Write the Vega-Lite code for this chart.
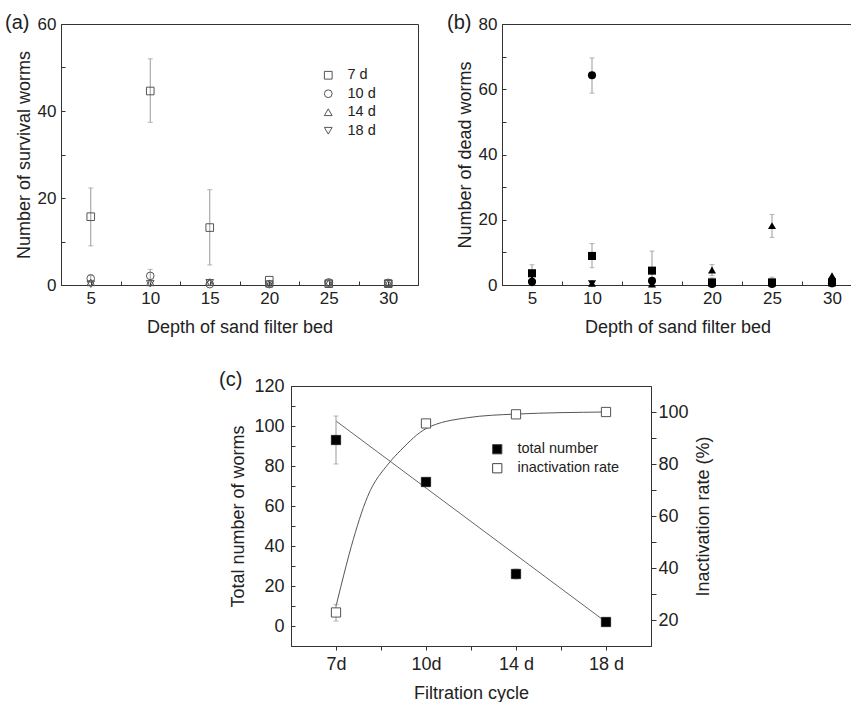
{
  "$schema": "https://vega.github.io/schema/vega-lite/v6.json",
  "padding": {"left": 4, "top": 12, "right": 0, "bottom": 0},
  "config": {
    "font": "Liberation Sans",
    "view": {"stroke": "#333", "strokeWidth": 1},
    "axis": {"grid": false, "domainColor": "#333", "tickColor": "#333", "labelColor": "#222", "titleColor": "#222", "titleFontWeight": "normal", "labelFlush": false, "labelOverlap": false, "labelFont": "Liberation Sans", "titleFont": "Liberation Sans"},
    "legend": {"labelFont": "Liberation Sans", "labelColor": "#222"},
    "title": {"color": "#222", "font": "Liberation Sans"}
  },
  "datasets": {
    "survival": [
      {"depth": 5, "age": "7 d", "n": 15.7, "lo": 9.0, "hi": 22.3},
      {"depth": 10, "age": "7 d", "n": 44.6, "lo": 37.4, "hi": 52.0},
      {"depth": 15, "age": "7 d", "n": 13.2, "lo": 4.6, "hi": 21.9},
      {"depth": 20, "age": "7 d", "n": 1.1},
      {"depth": 25, "age": "7 d", "n": 0.3},
      {"depth": 30, "age": "7 d", "n": 0.3},
      {"depth": 5, "age": "10 d", "n": 1.5, "lo": 0.8, "hi": 2.3},
      {"depth": 10, "age": "10 d", "n": 2.1, "lo": 0.6, "hi": 3.6},
      {"depth": 15, "age": "10 d", "n": 0.2},
      {"depth": 20, "age": "10 d", "n": 0.2},
      {"depth": 25, "age": "10 d", "n": 0.6},
      {"depth": 30, "age": "10 d", "n": 0.5},
      {"depth": 5, "age": "14 d", "n": 0.6},
      {"depth": 10, "age": "14 d", "n": 0.6},
      {"depth": 15, "age": "14 d", "n": 0.7},
      {"depth": 20, "age": "14 d", "n": 0.3},
      {"depth": 25, "age": "14 d", "n": 0.5},
      {"depth": 30, "age": "14 d", "n": 0.4},
      {"depth": 5, "age": "18 d", "n": 0.2},
      {"depth": 10, "age": "18 d", "n": 0.3},
      {"depth": 15, "age": "18 d", "n": 0.5},
      {"depth": 20, "age": "18 d", "n": 0.2},
      {"depth": 25, "age": "18 d", "n": 0.2},
      {"depth": 30, "age": "18 d", "n": 0.3}
    ],
    "dead": [
      {"depth": 5, "age": "7 d", "n": 3.6, "lo": 1.2, "hi": 6.2},
      {"depth": 10, "age": "7 d", "n": 8.9, "lo": 5.3, "hi": 12.7},
      {"depth": 15, "age": "7 d", "n": 4.4, "lo": 0, "hi": 10.4},
      {"depth": 20, "age": "7 d", "n": 0.8},
      {"depth": 25, "age": "7 d", "n": 0.8, "lo": 0, "hi": 2.4},
      {"depth": 30, "age": "7 d", "n": 0.8},
      {"depth": 5, "age": "10 d", "n": 1.0},
      {"depth": 10, "age": "10 d", "n": 64.3, "lo": 58.8, "hi": 69.6},
      {"depth": 15, "age": "10 d", "n": 1.3},
      {"depth": 20, "age": "10 d", "n": 0.3},
      {"depth": 25, "age": "10 d", "n": 0.3},
      {"depth": 30, "age": "10 d", "n": 0.5},
      {"depth": 5, "age": "14 d", "n": 1.8},
      {"depth": 10, "age": "14 d", "n": 0.5},
      {"depth": 15, "age": "14 d", "n": 0.3},
      {"depth": 20, "age": "14 d", "n": 4.6, "lo": 2.9, "hi": 6.3},
      {"depth": 25, "age": "14 d", "n": 18.2, "lo": 14.6, "hi": 21.6},
      {"depth": 30, "age": "14 d", "n": 2.8},
      {"depth": 5, "age": "18 d", "n": 0.5},
      {"depth": 10, "age": "18 d", "n": 0.4},
      {"depth": 15, "age": "18 d", "n": 0.3},
      {"depth": 20, "age": "18 d", "n": 0.4, "lo": 0, "hi": 2.2},
      {"depth": 25, "age": "18 d", "n": 0.6},
      {"depth": 30, "age": "18 d", "n": 0.5}
    ],
    "totals": [
      {"cycle": 1, "series": "total number", "v": 93, "lo": 81, "hi": 105},
      {"cycle": 2, "series": "total number", "v": 72, "lo": 70.5, "hi": 73.5},
      {"cycle": 3, "series": "total number", "v": 26, "lo": 23.5, "hi": 28.5},
      {"cycle": 4, "series": "total number", "v": 2, "lo": 1, "hi": 3}
    ],
    "rates": [
      {"cycle": 1, "series": "inactivation rate", "v": 22.9, "lo": 19.6, "hi": 26},
      {"cycle": 2, "series": "inactivation rate", "v": 95.6, "lo": 94.5, "hi": 97},
      {"cycle": 3, "series": "inactivation rate", "v": 99.1},
      {"cycle": 4, "series": "inactivation rate", "v": 100}
    ],
    "fitLinear": [
      {"cycle": 1, "fit": 102.5},
      {"cycle": 4, "fit": 2}
    ],
    "fitCurve": [
      {"cycle": 1, "fit": 25.3},
      {"cycle": 1.055, "fit": 33},
      {"cycle": 1.17, "fit": 48.3},
      {"cycle": 1.35, "fit": 67.4},
      {"cycle": 1.59, "fit": 80.4},
      {"cycle": 1.72, "fit": 85.3},
      {"cycle": 2.0, "fit": 93.6},
      {"cycle": 2.46, "fit": 97.8},
      {"cycle": 3, "fit": 99.2},
      {"cycle": 4, "fit": 100}
    ]
  },
  "resolve": {"scale": {"shape": "independent", "fill": "independent", "size": "independent"}},
  "vconcat": [
    {
      "resolve": {"scale": {"shape": "independent", "size": "independent"}},
      "hconcat": [
        {
          "width": 357,
          "height": 261,
          "title": {"text": "(a)", "anchor": "start", "frame": "group", "dx": -56, "dy": 31, "offset": -3, "baseline": "alphabetic", "fontSize": 20, "fontWeight": "normal"},
          "data": {"name": "survival"},
          "encoding": {
            "x": {"field": "depth", "type": "quantitative", "scale": {"domain": [2.5, 32.5], "nice": false, "zero": false},
              "axis": {"title": "Depth of sand filter bed", "values": [5, 7.5, 10, 12.5, 15, 17.5, 20, 22.5, 25, 27.5, 30], "labelExpr": "datum.value % 5 === 0 ? datum.label : ''", "tickSize": -4, "labelPadding": 9, "titlePadding": 12, "labelFontSize": 17, "titleFontSize": 18}}
          },
          "layer": [
            {
              "transform": [{"filter": "isValid(datum.lo)"}],
              "mark": {"type": "rule", "color": "#999", "strokeWidth": 1},
              "encoding": {
                "y": {"field": "lo", "type": "quantitative", "scale": {"domain": [0, 60], "nice": false, "zero": false},
                  "axis": {"title": "Number of survival worms", "values": [0, 10, 20, 30, 40, 50, 60], "labelExpr": "datum.value % 20 === 0 ? datum.label : ''", "tickSize": -4, "labelPadding": 9, "titlePadding": 4, "labelFontSize": 17, "titleFontSize": 18}},
                "y2": {"field": "hi"}
              }
            },
            {
              "transform": [{"filter": "isValid(datum.lo)"}],
              "mark": {"type": "tick", "orient": "horizontal", "size": 5, "thickness": 1, "color": "#999"},
              "encoding": {
                "y": {"field": "lo", "type": "quantitative", "scale": {"domain": [0, 60], "nice": false, "zero": false},
                  "axis": {"title": "Number of survival worms", "values": [0, 10, 20, 30, 40, 50, 60], "labelExpr": "datum.value % 20 === 0 ? datum.label : ''", "tickSize": -4, "labelPadding": 9, "titlePadding": 4, "labelFontSize": 17, "titleFontSize": 18}}
              }
            },
            {
              "transform": [{"filter": "isValid(datum.hi)"}],
              "mark": {"type": "tick", "orient": "horizontal", "size": 5, "thickness": 1, "color": "#999"},
              "encoding": {
                "y": {"field": "hi", "type": "quantitative", "scale": {"domain": [0, 60], "nice": false, "zero": false},
                  "axis": {"title": "Number of survival worms", "values": [0, 10, 20, 30, 40, 50, 60], "labelExpr": "datum.value % 20 === 0 ? datum.label : ''", "tickSize": -4, "labelPadding": 9, "titlePadding": 4, "labelFontSize": 17, "titleFontSize": 18}}
              }
            },
            {
              "mark": {"type": "point", "filled": false, "color": "#555", "size": 58, "strokeWidth": 1, "opacity": 1},
              "encoding": {
                "y": {"field": "n", "type": "quantitative", "scale": {"domain": [0, 60], "nice": false, "zero": false},
                  "axis": {"title": "Number of survival worms", "values": [0, 10, 20, 30, 40, 50, 60], "labelExpr": "datum.value % 20 === 0 ? datum.label : ''", "tickSize": -4, "labelPadding": 9, "titlePadding": 4, "labelFontSize": 17, "titleFontSize": 18}},
                "shape": {"field": "age", "type": "nominal",
                  "scale": {"domain": ["7 d", "10 d", "14 d", "18 d"], "range": ["square", "circle", "triangle-up", "triangle-down"]},
                  "legend": {"title": null, "orient": "none", "legendX": 260, "legendY": 44, "labelFontSize": 14.5, "labelOffset": 12, "rowPadding": 3.5, "symbolSize": 60, "symbolStrokeWidth": 1}}
              }
            }
          ]
        },
        {
          "width": 351,
          "height": 261,
          "title": {"text": "(b)", "anchor": "start", "frame": "group", "dx": -55, "dy": 31, "offset": -3, "baseline": "alphabetic", "fontSize": 20, "fontWeight": "normal"},
          "data": {"name": "dead"},
          "encoding": {
            "x": {"field": "depth", "type": "quantitative", "scale": {"domain": [2.5, 31.75], "nice": false, "zero": false},
              "axis": {"title": "Depth of sand filter bed", "values": [5, 7.5, 10, 12.5, 15, 17.5, 20, 22.5, 25, 27.5, 30], "labelExpr": "datum.value % 5 === 0 ? datum.label : ''", "tickSize": -4, "labelPadding": 9, "titlePadding": 12, "labelFontSize": 17, "titleFontSize": 18}}
          },
          "layer": [
            {
              "transform": [{"filter": "isValid(datum.lo)"}],
              "mark": {"type": "rule", "color": "#999", "strokeWidth": 1},
              "encoding": {
                "y": {"field": "lo", "type": "quantitative", "scale": {"domain": [0, 80], "nice": false, "zero": false},
                  "axis": {"title": "Number of dead worms", "values": [0, 10, 20, 30, 40, 50, 60, 70, 80], "labelExpr": "datum.value % 20 === 0 ? datum.label : ''", "tickSize": -4, "labelPadding": 9, "titlePadding": 4, "labelFontSize": 17, "titleFontSize": 18}},
                "y2": {"field": "hi"}
              }
            },
            {
              "transform": [{"filter": "isValid(datum.lo)"}],
              "mark": {"type": "tick", "orient": "horizontal", "size": 5, "thickness": 1, "color": "#999"},
              "encoding": {
                "y": {"field": "lo", "type": "quantitative", "scale": {"domain": [0, 80], "nice": false, "zero": false},
                  "axis": {"title": "Number of dead worms", "values": [0, 10, 20, 30, 40, 50, 60, 70, 80], "labelExpr": "datum.value % 20 === 0 ? datum.label : ''", "tickSize": -4, "labelPadding": 9, "titlePadding": 4, "labelFontSize": 17, "titleFontSize": 18}}
              }
            },
            {
              "transform": [{"filter": "isValid(datum.hi)"}],
              "mark": {"type": "tick", "orient": "horizontal", "size": 5, "thickness": 1, "color": "#999"},
              "encoding": {
                "y": {"field": "hi", "type": "quantitative", "scale": {"domain": [0, 80], "nice": false, "zero": false},
                  "axis": {"title": "Number of dead worms", "values": [0, 10, 20, 30, 40, 50, 60, 70, 80], "labelExpr": "datum.value % 20 === 0 ? datum.label : ''", "tickSize": -4, "labelPadding": 9, "titlePadding": 4, "labelFontSize": 17, "titleFontSize": 18}}
              }
            },
            {
              "mark": {"type": "point", "filled": true, "color": "#000", "opacity": 1},
              "encoding": {
                "y": {"field": "n", "type": "quantitative", "scale": {"domain": [0, 80], "nice": false, "zero": false},
                  "axis": {"title": "Number of dead worms", "values": [0, 10, 20, 30, 40, 50, 60, 70, 80], "labelExpr": "datum.value % 20 === 0 ? datum.label : ''", "tickSize": -4, "labelPadding": 9, "titlePadding": 4, "labelFontSize": 17, "titleFontSize": 18}},
                "shape": {"field": "age", "type": "nominal",
                  "scale": {"domain": ["7 d", "10 d", "14 d", "18 d"], "range": ["square", "circle", "triangle-up", "triangle-down"]},
                  "legend": {"title": null, "orient": "none", "legendX": 259, "legendY": 33, "labelFontSize": 14.5, "labelOffset": 12, "rowPadding": 3.5, "symbolSize": 70}},
                "size": {"field": "age", "type": "nominal",
                  "scale": {"domain": ["7 d", "10 d", "14 d", "18 d"], "range": [65, 65, 95, 95]}, "legend": null}
              }
            }
          ]
        }
      ],
      "spacing": 27
    },
    {
      "resolve": {"scale": {"fill": "independent"}},
      "hconcat": [
        {
          "width": 157,
          "height": 1,
          "view": {"stroke": null},
          "data": {"values": []},
          "mark": "point"
        },
        {
          "width": 360,
          "height": 260,
          "title": {"text": "(c)", "anchor": "start", "frame": "group", "dx": -72, "dy": 29, "offset": 0, "baseline": "alphabetic", "fontSize": 20, "fontWeight": "normal"},
          "encoding": {
            "x": {"field": "cycle", "type": "quantitative", "scale": {"domain": [0.5, 4.5], "nice": false, "zero": false},
              "axis": {"title": "Filtration cycle", "values": [1, 1.5, 2, 2.5, 3, 3.5, 4], "labelExpr": "datum.value === 1 ? '7d' : datum.value === 2 ? '10d' : datum.value === 3 ? '14 d' : datum.value === 4 ? '18 d' : ''", "tickSize": 4, "labelPadding": 5, "titlePadding": 11, "labelFontSize": 18, "titleFontSize": 18}}
          },
          "layer": [
            {
              "layer": [
                {
                  "data": {"name": "fitLinear"},
                  "mark": {"type": "line", "color": "#666", "strokeWidth": 1},
                  "encoding": {
                    "y": {"field": "fit", "type": "quantitative", "scale": {"domain": [-10, 120], "nice": false, "zero": false},
                      "axis": {"title": "Total number of worms", "values": [0, 10, 20, 30, 40, 50, 60, 70, 80, 90, 100, 110, 120], "labelExpr": "datum.value % 20 === 0 ? datum.label : ''", "tickSize": -4, "labelPadding": 11, "titlePadding": 6, "labelFontSize": 18, "titleFontSize": 18}}
                  }
                },
                {
                  "data": {"name": "totals"},
                  "transform": [{"filter": "isValid(datum.lo)"}],
                  "mark": {"type": "rule", "color": "#999", "strokeWidth": 1},
                  "encoding": {
                    "y": {"field": "lo", "type": "quantitative", "scale": {"domain": [-10, 120], "nice": false, "zero": false},
                      "axis": {"title": "Total number of worms", "values": [0, 10, 20, 30, 40, 50, 60, 70, 80, 90, 100, 110, 120], "labelExpr": "datum.value % 20 === 0 ? datum.label : ''", "tickSize": -4, "labelPadding": 11, "titlePadding": 6, "labelFontSize": 18, "titleFontSize": 18}},
                    "y2": {"field": "hi"}
                  }
                },
                {
                  "data": {"name": "totals"},
                  "mark": {"type": "tick", "orient": "horizontal", "size": 5, "thickness": 1, "color": "#999"},
                  "encoding": {
                    "y": {"field": "lo", "type": "quantitative", "scale": {"domain": [-10, 120], "nice": false, "zero": false},
                      "axis": {"title": "Total number of worms", "values": [0, 10, 20, 30, 40, 50, 60, 70, 80, 90, 100, 110, 120], "labelExpr": "datum.value % 20 === 0 ? datum.label : ''", "tickSize": -4, "labelPadding": 11, "titlePadding": 6, "labelFontSize": 18, "titleFontSize": 18}}
                  }
                },
                {
                  "data": {"name": "totals"},
                  "mark": {"type": "tick", "orient": "horizontal", "size": 5, "thickness": 1, "color": "#999"},
                  "encoding": {
                    "y": {"field": "hi", "type": "quantitative", "scale": {"domain": [-10, 120], "nice": false, "zero": false},
                      "axis": {"title": "Total number of worms", "values": [0, 10, 20, 30, 40, 50, 60, 70, 80, 90, 100, 110, 120], "labelExpr": "datum.value % 20 === 0 ? datum.label : ''", "tickSize": -4, "labelPadding": 11, "titlePadding": 6, "labelFontSize": 18, "titleFontSize": 18}}
                  }
                },
                {
                  "data": {"name": "totals"},
                  "mark": {"type": "point", "shape": "square", "filled": true, "size": 85, "stroke": "#222", "strokeWidth": 1, "opacity": 1},
                  "encoding": {
                    "y": {"field": "v", "type": "quantitative", "scale": {"domain": [-10, 120], "nice": false, "zero": false},
                      "axis": {"title": "Total number of worms", "values": [0, 10, 20, 30, 40, 50, 60, 70, 80, 90, 100, 110, 120], "labelExpr": "datum.value % 20 === 0 ? datum.label : ''", "tickSize": -4, "labelPadding": 11, "titlePadding": 6, "labelFontSize": 18, "titleFontSize": 18}},
                    "fill": {"field": "series", "type": "nominal", "scale": {"domain": ["total number", "inactivation rate"], "range": ["#000000", "#ffffff"]},
                      "legend": {"title": null, "orient": "none", "legendX": 199, "legendY": 56, "symbolType": "square", "symbolSize": 85, "symbolStrokeColor": "#444", "symbolStrokeWidth": 1, "labelFontSize": 14.5, "labelOffset": 13, "rowPadding": 4}}
                  }
                }
              ]
            },
            {
              "layer": [
                {
                  "data": {"name": "fitCurve"},
                  "mark": {"type": "line", "color": "#555", "strokeWidth": 1, "interpolate": "monotone"},
                  "encoding": {
                    "y": {"field": "fit", "type": "quantitative", "scale": {"domain": [10, 110], "nice": false, "zero": false},
                      "axis": {"orient": "right", "title": "Inactivation rate (%)", "titleAngle": 270, "titleBaseline": "top", "values": [20, 30, 40, 50, 60, 70, 80, 90, 100], "labelExpr": "datum.value % 20 === 0 ? datum.label : ''", "tickSize": 5, "labelPadding": 2, "titlePadding": 6, "labelFontSize": 18, "titleFontSize": 18}}
                  }
                },
                {
                  "data": {"name": "rates"},
                  "transform": [{"filter": "isValid(datum.lo)"}],
                  "mark": {"type": "rule", "color": "#999", "strokeWidth": 1},
                  "encoding": {
                    "y": {"field": "lo", "type": "quantitative", "scale": {"domain": [10, 110], "nice": false, "zero": false},
                      "axis": {"orient": "right", "title": "Inactivation rate (%)", "titleAngle": 270, "titleBaseline": "top", "values": [20, 30, 40, 50, 60, 70, 80, 90, 100], "labelExpr": "datum.value % 20 === 0 ? datum.label : ''", "tickSize": 5, "labelPadding": 2, "titlePadding": 6, "labelFontSize": 18, "titleFontSize": 18}},
                    "y2": {"field": "hi"}
                  }
                },
                {
                  "data": {"name": "rates"},
                  "transform": [{"filter": "isValid(datum.lo)"}],
                  "mark": {"type": "tick", "orient": "horizontal", "size": 5, "thickness": 1, "color": "#999"},
                  "encoding": {
                    "y": {"field": "lo", "type": "quantitative", "scale": {"domain": [10, 110], "nice": false, "zero": false},
                      "axis": {"orient": "right", "title": "Inactivation rate (%)", "titleAngle": 270, "titleBaseline": "top", "values": [20, 30, 40, 50, 60, 70, 80, 90, 100], "labelExpr": "datum.value % 20 === 0 ? datum.label : ''", "tickSize": 5, "labelPadding": 2, "titlePadding": 6, "labelFontSize": 18, "titleFontSize": 18}}
                  }
                },
                {
                  "data": {"name": "rates"},
                  "transform": [{"filter": "isValid(datum.hi)"}],
                  "mark": {"type": "tick", "orient": "horizontal", "size": 5, "thickness": 1, "color": "#999"},
                  "encoding": {
                    "y": {"field": "hi", "type": "quantitative", "scale": {"domain": [10, 110], "nice": false, "zero": false},
                      "axis": {"orient": "right", "title": "Inactivation rate (%)", "titleAngle": 270, "titleBaseline": "top", "values": [20, 30, 40, 50, 60, 70, 80, 90, 100], "labelExpr": "datum.value % 20 === 0 ? datum.label : ''", "tickSize": 5, "labelPadding": 2, "titlePadding": 6, "labelFontSize": 18, "titleFontSize": 18}}
                  }
                },
                {
                  "data": {"name": "rates"},
                  "mark": {"type": "point", "shape": "square", "filled": true, "size": 85, "stroke": "#555", "strokeWidth": 1, "opacity": 1},
                  "encoding": {
                    "y": {"field": "v", "type": "quantitative", "scale": {"domain": [10, 110], "nice": false, "zero": false},
                      "axis": {"orient": "right", "title": "Inactivation rate (%)", "titleAngle": 270, "titleBaseline": "top", "values": [20, 30, 40, 50, 60, 70, 80, 90, 100], "labelExpr": "datum.value % 20 === 0 ? datum.label : ''", "tickSize": 5, "labelPadding": 2, "titlePadding": 6, "labelFontSize": 18, "titleFontSize": 18}},
                    "fill": {"field": "series", "type": "nominal", "scale": {"domain": ["total number", "inactivation rate"], "range": ["#000000", "#ffffff"]},
                      "legend": {"title": null, "orient": "none", "legendX": 199, "legendY": 56, "symbolType": "square", "symbolSize": 85, "symbolStrokeColor": "#444", "symbolStrokeWidth": 1, "labelFontSize": 14.5, "labelOffset": 13, "rowPadding": 4}}
                  }
                }
              ]
            }
          ],
          "resolve": {"scale": {"y": "independent"}}
        }
      ],
      "spacing": 0
    }
  ],
  "spacing": 32
}
